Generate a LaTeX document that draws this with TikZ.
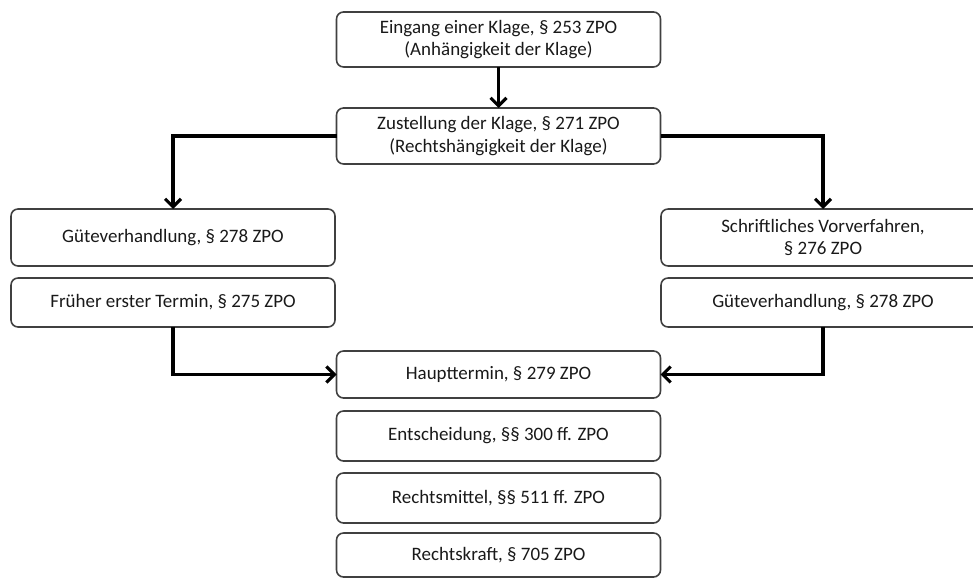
\documentclass[tikz,border=0pt]{standalone}
\usepackage{fontspec}
\setmainfont{Carlito}
\usetikzlibrary{arrows.meta}

\tikzset{
  box/.style={draw=black!75, line width=0.9pt, rounded corners=4pt,
    minimum width=6.48cm, inner sep=0pt, outer sep=0pt, align=center,
    text=black!90, font=\fontsize{10.8}{13}\selectfont},
  pfeil/.style={line width=1.9pt, -{Straight Barb[length=4.5pt,width=9pt,line width=1.8pt]}}
}

\begin{document}
\begin{tikzpicture} %Verfahrensablauf ZPO
        \clip (0,0) rectangle (19.46,-11.58);

        \node[box, minimum height=1.1cm]  (eingang)    at (9.97,-0.79)  {Eingang einer Klage, § 253 ZPO\\(Anhängigkeit der Klage)};
        \node[box, minimum height=1.12cm] (zustellung) at (9.97,-2.72)  {Zustellung der Klage, § 271 ZPO\\(Rechtshängigkeit der Klage)};

        \node[box, minimum height=1.14cm] (guete)   at (3.46,-4.75)  {Güteverhandlung, § 278 ZPO};
        \node[box, minimum height=0.98cm] (frueh)   at (3.46,-6.05)  {Früher erster Termin, § 275 ZPO};
        \node[box, minimum height=1.14cm] (schrift) at (16.46,-4.75) {Schriftliches Vorverfahren,\\§ 276 ZPO};
        \node[box, minimum height=0.98cm] (guete2)  at (16.46,-6.05) {Güteverhandlung, § 278 ZPO};

        \node[box, minimum height=0.94cm] (haupt)   at (9.97,-7.49)  {Haupttermin, § 279 ZPO};
        \node[box, minimum height=1.0cm]  (entsch)  at (9.97,-8.72)  {Entscheidung, §§ 300 ff. ZPO};
        \node[box, minimum height=1.0cm]  (rmittel) at (9.97,-9.96)  {Rechtsmittel, §§ 511 ff. ZPO};
        \node[box, minimum height=0.88cm] (rkraft)  at (9.97,-11.1)  {Rechtskraft, § 705 ZPO};

        \draw[pfeil] (eingang) -- (zustellung);
        \draw[pfeil] (zustellung.west) -| (guete.north);
        \draw[pfeil] (zustellung.east) -| (schrift.north);
        \draw[pfeil] (frueh.south) |- (haupt.west);
        \draw[pfeil] (guete2.south) |- (haupt.east);
    \end{tikzpicture}
\end{document}
